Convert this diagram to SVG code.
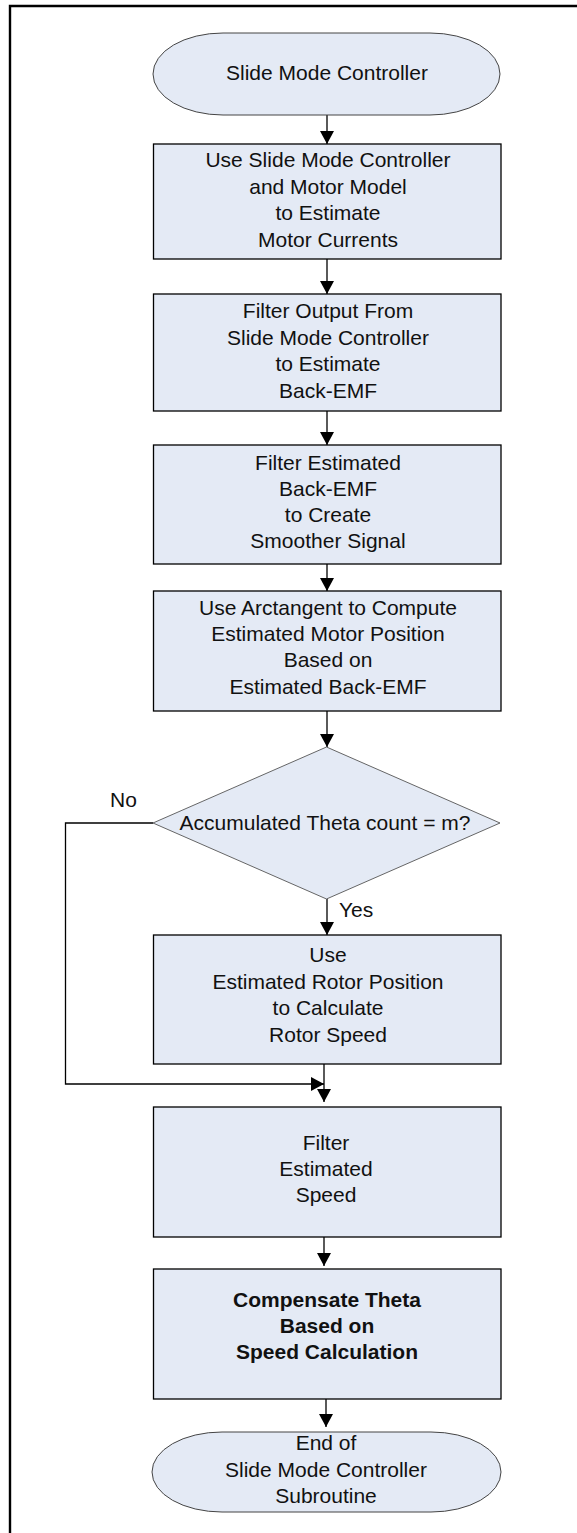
<svg xmlns="http://www.w3.org/2000/svg" width="577" height="1533" viewBox="0 0 577 1533">
  <style>
    .box { fill: #E4EAF5; stroke: #000; stroke-width: 1.3; }
    .term { fill: #E4EAF5; stroke: #444; stroke-width: 1; }
    .dec { fill: #E4EAF5; stroke: #555; stroke-width: 0.9; }
    .frame { stroke: #000; stroke-width: 2.4; fill: none; }
    .wire { fill: none; stroke: #000; stroke-width: 1.3; }
    .arrow { marker-end: url(#ah); }
    text { font-family: "Liberation Sans", Arial, sans-serif; font-size: 21px; fill: #111; }
    .c { text-anchor: middle; }
    .b { font-weight: bold; }
  </style>
  <defs>
    <marker id="ah" viewBox="0 0 13 14" refX="13" refY="7" markerWidth="13" markerHeight="14" markerUnits="userSpaceOnUse" orient="auto">
      <path d="M0,0 L13,7 L0,14 Z" fill="#000"/>
    </marker>
  </defs>

  <rect width="577" height="1533" fill="#fff"/>

  <!-- figure frame: top and left edges -->
  <path class="frame" d="M10,1533 V6 H577"/>

  <!-- connectors -->
  <g id="connectors">
    <path class="wire arrow" d="M327,115 V144"/>
    <path class="wire arrow" d="M327,259 V294"/>
    <path class="wire arrow" d="M327,411 V445"/>
    <path class="wire arrow" d="M327,564 V591"/>
    <path class="wire arrow" d="M327,711 V747"/>
    <path class="wire arrow" d="M327,899 V935"/>
    <path class="wire arrow" d="M153,823 H65.5 V1084 H324"/>
    <path class="wire arrow" d="M324,1064 V1102"/>
    <path class="wire arrow" d="M324,1237 V1266"/>
    <path class="wire arrow" d="M326,1399 V1427"/>
    <text x="110" y="807">No</text>
    <text x="339" y="917">Yes</text>
  </g>

  <g id="start">
    <path class="term" d="M223,33 H430 A70,41 0 0 1 430,115 H223 A70,41 0 0 1 223,33 Z"/>
    <text class="c" x="327" y="80">Slide Mode Controller</text>
  </g>

  <g id="estimate-currents">
    <rect class="box" x="153.5" y="144" width="347.5" height="115"/>
    <text class="c" x="328" y="167">Use Slide Mode Controller</text>
    <text class="c" x="328" y="193.5">and Motor Model</text>
    <text class="c" x="328" y="220">to Estimate</text>
    <text class="c" x="328" y="246.5">Motor Currents</text>
  </g>

  <g id="estimate-bemf">
    <rect class="box" x="153.5" y="294" width="347.5" height="117"/>
    <text class="c" x="328" y="318">Filter Output From</text>
    <text class="c" x="328" y="344.5">Slide Mode Controller</text>
    <text class="c" x="328" y="371">to Estimate</text>
    <text class="c" x="328" y="397.5">Back-EMF</text>
  </g>

  <g id="filter-bemf">
    <rect class="box" x="153.5" y="445" width="347.5" height="119"/>
    <text class="c" x="328" y="470">Filter Estimated</text>
    <text class="c" x="328" y="496">Back-EMF</text>
    <text class="c" x="328" y="522">to Create</text>
    <text class="c" x="328" y="548">Smoother Signal</text>
  </g>

  <g id="arctangent">
    <rect class="box" x="153.5" y="591" width="347.5" height="120"/>
    <text class="c" x="328" y="614.5">Use Arctangent to Compute</text>
    <text class="c" x="328" y="641">Estimated Motor Position</text>
    <text class="c" x="328" y="667">Based on</text>
    <text class="c" x="328" y="693.5">Estimated Back-EMF</text>
  </g>

  <g id="theta-count">
    <polygon class="dec" points="326.5,747 500,823 326.5,899 153,823"/>
    <text class="c" x="325" y="830">Accumulated Theta count = m?</text>
  </g>

  <g id="rotor-speed">
    <rect class="box" x="153.5" y="935" width="347.5" height="129"/>
    <text class="c" x="328" y="962">Use</text>
    <text class="c" x="328" y="988.5">Estimated Rotor Position</text>
    <text class="c" x="328" y="1015">to Calculate</text>
    <text class="c" x="328" y="1041.5">Rotor Speed</text>
  </g>

  <g id="filter-speed">
    <rect class="box" x="153.5" y="1107" width="347.5" height="130"/>
    <text class="c" x="326" y="1150">Filter</text>
    <text class="c" x="326" y="1176">Estimated</text>
    <text class="c" x="326" y="1202">Speed</text>
  </g>

  <g id="compensate">
    <rect class="box" x="153.5" y="1269" width="347.5" height="130"/>
    <text class="c b" x="327" y="1307">Compensate Theta</text>
    <text class="c b" x="327" y="1333">Based on</text>
    <text class="c b" x="327" y="1358.5">Speed Calculation</text>
  </g>

  <g id="end">
    <path class="term" d="M222,1432 H431 A70,40 0 0 1 431,1512 H222 A70,40 0 0 1 222,1432 Z"/>
    <text class="c" x="326" y="1450">End of</text>
    <text class="c" x="326" y="1477">Slide Mode Controller</text>
    <text class="c" x="326" y="1503">Subroutine</text>
  </g>
</svg>
